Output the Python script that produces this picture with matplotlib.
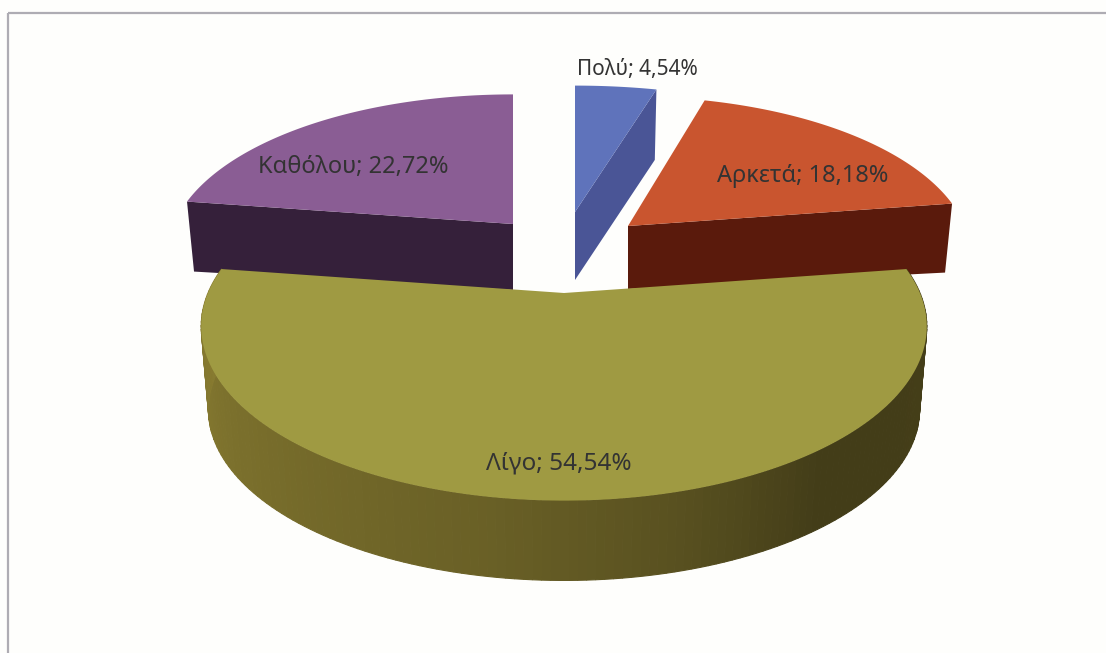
import numpy as np
import matplotlib
matplotlib.use('Agg')
import matplotlib.pyplot as plt
from matplotlib.patches import Polygon, Rectangle

labels = ['Πολύ', 'Αρκετά', 'Λίγο', 'Καθόλου']
values = [4.54, 18.18, 54.54, 22.72]
value_text = ['4,54%', '18,18%', '54,54%', '22,72%']

top_colors = ['#5f73bb', '#c9552f', '#9f9a42', '#8a5d94']
side_colors = ['#4a5596', '#5a1a0c', '#6f6528', '#35203a']

# layout of every slice in image pixels: apex x, apex y, rx, ry, depth
layout = [
    (575, 212, 358, 158, 68),
    (628, 226, 337, 162, 63),
    (564, 293, 356, 173, 84),
    (513, 224, 339, 162, 66),
]
label_pos = [(637, 69), (803, 176), (559, 464), (353, 167)]
label_size = [15, 17, 17.5, 17]
persp = 0.2
shrink = 0.98


def project(cx, cy, rx, ry, theta, k=persp):
    # theta is clockwise from the top, the far side of the disc gets smaller
    s = 1 - k * np.cos(theta)
    return cx + rx * np.sin(theta) * s, cy - ry * np.cos(theta) * s


def darker(c, f):
    return tuple(np.clip(np.array(matplotlib.colors.to_rgb(c)) * f, 0, 1))


fig = plt.figure(figsize=(11.06, 6.53), dpi=100, facecolor='#fefefc')
ax = fig.add_axes([0, 0, 1, 1])
ax.set_xlim(0, 1106)
ax.set_ylim(653, 0)
ax.axis('off')

ax.add_patch(Rectangle((7.5, 12.5), 1200, 700, fill=False, ec='#aeacb3', lw=1.6))

fractions = np.array(values) / sum(values)
ends = np.cumsum(fractions) * 2 * np.pi
starts = ends - fractions * 2 * np.pi

# slices at the back first, the big one covers them
for i in [0, 3, 1, 2]:
    cx, cy, rx, ry, d = layout[i]
    a = np.linspace(starts[i], ends[i], 160)
    x, y = project(cx, cy, rx, ry, a)
    xb, yb = project(cx, cy + d, rx * shrink, ry * shrink, a)

    # cut faces
    if i == 0:
        ax.add_patch(Polygon([(cx, cy), (x[-1], y[-1]), (xb[-1], yb[-1]), (cx, cy + d)],
                             fc=side_colors[i], ec='none', zorder=i))
    if i == 1:
        ax.add_patch(Polygon([(cx, cy), (x[-1], y[-1]), (x[-1] - 7, y[-1] + d + 6), (cx, cy + d)],
                             fc=side_colors[i], ec='none', zorder=i))
    if i == 3:
        ax.add_patch(Polygon([(cx, cy), (x[0], y[0]), (x[0] + 7, y[0] + d + 4), (cx, cy + d)],
                             fc=side_colors[i], ec='none', zorder=i))

    # outer wall of the big slice, shaded from right to left
    if i == 2:
        for j in range(len(a) - 1):
            t = (a[j] - a[0]) / (a[-1] - a[0])
            shade = np.interp(t, [0, 0.3, 0.42, 0.55, 1], [0.62, 0.6, 0.8, 0.95, 1.25])
            c = darker(side_colors[i], shade)
            ax.add_patch(Polygon([(x[j], y[j]), (x[j + 1], y[j + 1]), (xb[j + 1], yb[j + 1]), (xb[j], yb[j])],
                                 fc=c, ec=c, lw=0.8, zorder=5))

    ax.add_patch(Polygon(np.column_stack([np.r_[cx, x], np.r_[cy, y]]),
                         fc=top_colors[i], ec='none', zorder=6))

for i in range(len(labels)):
    ax.text(label_pos[i][0], label_pos[i][1], labels[i] + '; ' + value_text[i],
            family='Noto Sans', fontsize=label_size[i], color='#333333', ha='center', va='center', zorder=10)

fig.savefig('out.png', dpi=100, facecolor=fig.get_facecolor())
